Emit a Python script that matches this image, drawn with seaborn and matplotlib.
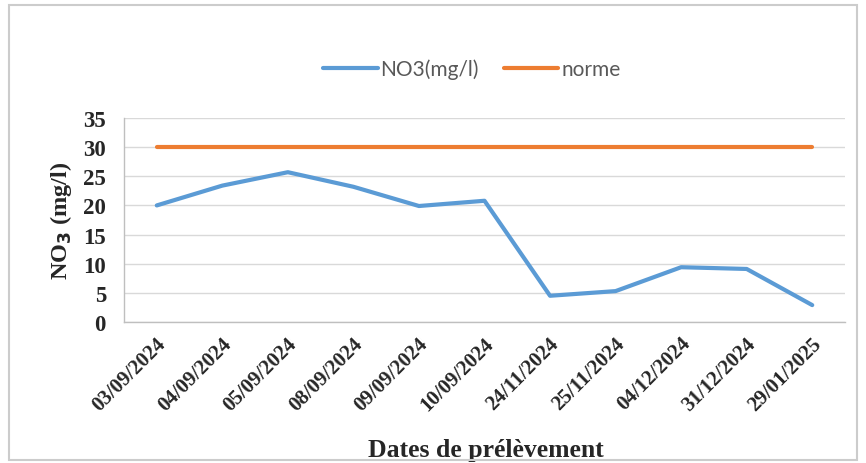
import matplotlib
matplotlib.use("Agg")
import matplotlib.pyplot as plt
import matplotlib.transforms as mtransforms
import seaborn as sns
import pandas as pd
from matplotlib.patches import Rectangle
from matplotlib.lines import Line2D

dates = ["03/09/2024", "04/09/2024", "05/09/2024", "08/09/2024", "09/09/2024",
         "10/09/2024", "24/11/2024", "25/11/2024", "04/12/2024", "31/12/2024",
         "29/01/2025"]
no3 = [20.0, 23.4, 25.7, 23.2, 19.9, 20.8, 4.5, 5.3, 9.4, 9.1, 2.9]
norme = [30] * len(dates)

sns.set_style("white")
plt.rcParams['font.family'] = ['Liberation Serif', 'DejaVu Serif']

df = pd.DataFrame({"date": dates, "NO3(mg/l)": no3, "norme": norme})
long = df.melt(id_vars="date", var_name="serie", value_name="val")

fig = plt.figure(figsize=(8.66, 4.64), dpi=100)
ax = fig.add_axes([124/866, 1 - 323/464, (845-124)/866, (323-119)/464])

sns.lineplot(data=long, x="date", y="val", hue="serie", sort=False,
             palette={"NO3(mg/l)": "#5b9bd5", "norme": "#ed7d31"},
             linewidth=3, ax=ax, legend=False, solid_capstyle="round")

ax.set_xlim(-0.5, len(dates) - 0.5)
ax.set_ylim(0, 35)
ax.set_yticks(range(0, 36, 5))
ax.yaxis.grid(True, color="#d9d9d9", linewidth=1)
ax.set_axisbelow(True)
for s in ["top", "right"]:
    ax.spines[s].set_visible(False)
for s in ["left", "bottom"]:
    ax.spines[s].set_color("#bfbfbf")
    ax.spines[s].set_linewidth(1)

ax.set_xticks(range(len(dates)))
ax.set_xticklabels(dates, rotation=45, ha="right", va="center", rotation_mode="anchor",
                   fontsize=15, fontweight="bold")
ax.tick_params(axis="x", which="major", length=0, pad=13)
offset = mtransforms.ScaledTranslation(6/100, 0, fig.dpi_scale_trans)
for lab in ax.get_xticklabels():
    lab.set_transform(lab.get_transform() + offset)
ax.set_xticks([i - 0.5 for i in range(len(dates) + 1)], minor=True)
ax.tick_params(axis="x", which="minor", length=5, color="#bfbfbf", direction="out")
ax.tick_params(axis="y", length=5, color="#bfbfbf", direction="out", labelsize=16.5, pad=8)
for lab in ax.get_yticklabels():
    lab.set_fontweight("bold")

ax.set_xlabel("Dates de prélèvement", fontsize=18.5, fontweight="bold")
ax.set_ylabel("NO$_\\mathbf{3}$ (mg/l)", fontsize=17.5, fontweight="bold")
ax.xaxis.set_label_coords(0.502, -0.57)
ax.yaxis.set_label_coords(-0.07, 0.5)

handles = [Line2D([], [], color="#5b9bd5", lw=3, solid_capstyle="round"),
           Line2D([], [], color="#ed7d31", lw=3, solid_capstyle="round")]
fig.legend(handles, ["NO3(mg/l)", "norme"], loc="center", bbox_to_anchor=(472/866, 1 - 70/464),
           ncol=2, frameon=False, prop={"family": ["Lato", "DejaVu Sans"], "size": 15},
           labelcolor="#595959", handlelength=2.6, handletextpad=0.15, columnspacing=1.2)

fig.patches.append(Rectangle((8.5/866, 3/464), (857-8.5)/866, (458.5-3)/464, transform=fig.transFigure,
                             fill=False, edgecolor="#cccccc", linewidth=1.5))

fig.savefig("out.png", dpi=100)
